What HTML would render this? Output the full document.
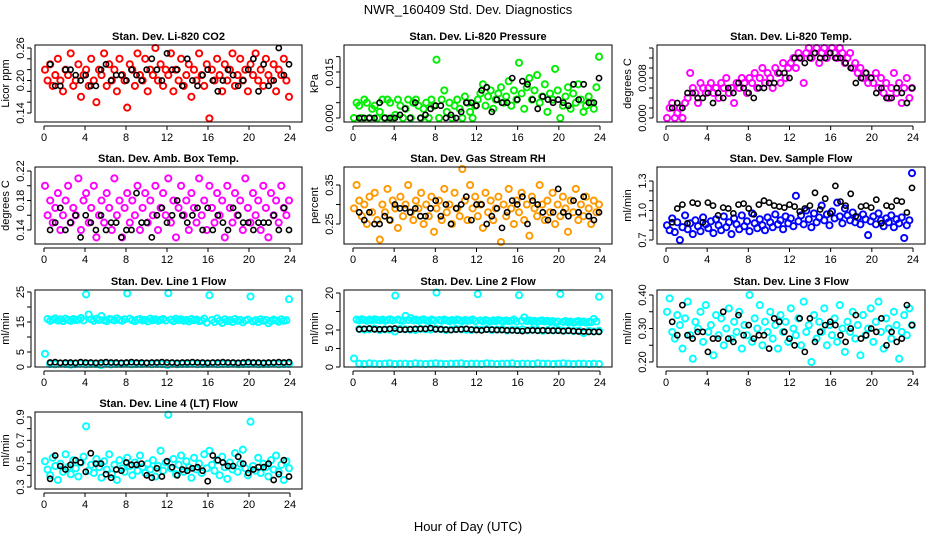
<!DOCTYPE html>
<html><head><meta charset="utf-8">
<style>
html,body{margin:0;padding:0;background:#fff;}
svg{display:block;font-family:"Liberation Sans",sans-serif;}
</style></head>
<body>
<svg id="chart" width="936" height="540" viewBox="0 0 936 540">
<text x="468" y="14" text-anchor="middle" font-size="13">NWR_160409  Std. Dev. Diagnostics</text>
<text x="468" y="531" text-anchor="middle" font-size="13">Hour of Day (UTC)</text>
</svg>
<script>
// ---------- data ----------
const hourTicks = [0,4,8,12,16,20,24];
const panelTitles = ["Stan. Dev. Li-820 CO2","Stan. Dev. Li-820 Pressure","Stan. Dev. Li-820 Temp.","Stan. Dev. Amb. Box Temp.","Stan. Dev. Gas Stream RH","Stan. Dev. Sample Flow","Stan. Dev. Line 1 Flow","Stan. Dev. Line 2 Flow","Stan. Dev. Line 3 Flow","Stan. Dev. Line 4 (LT) Flow"];
const yTitles = ["Licor ppm","kPa","degrees C","degrees C","percent","ml/min","ml/min","ml/min","ml/min","ml/min"];

const co2Col = [0.22,0.20,0.23,0.19,0.21,0.24,0.20,0.18,0.22,0.21,0.25,0.19,0.20,0.23,0.17,0.21,0.22,0.19,0.24,0.20,0.16,0.22,0.21,0.25,0.19,0.23,0.20,0.22,0.18,0.24,0.21,0.20,0.15,0.23,0.22,0.19,0.25,0.21,0.20,0.24,0.18,0.22,0.21,0.26,0.20,0.23,0.19,0.22,0.21,0.25,0.18,0.22,0.20,0.24,0.19,0.21,0.23,0.17,0.22,0.20,0.25,0.21,0.19,0.23,0.13,0.22,0.20,0.24,0.21,0.18,0.23,0.20,0.22,0.25,0.19,0.21,0.24,0.20,0.22,0.18,0.23,0.21,0.25,0.20,0.22,0.19,0.24,0.21,0.20,0.23,0.18,0.22,0.21,0.24,0.20,0.17];
const co2Blk = [0.23,0.19,0.19,0.22,0.22,0.21,0.20,0.21,0.19,0.19,0.22,0.23,0.20,0.21,0.21,0.20,0.22,0.21,0.20,0.22,0.24,0.22,0.20,0.25,0.22,0.22,0.19,0.24,0.20,0.19,0.21,0.22,0.20,0.18,0.20,0.22,0.21,0.19,0.20,0.22,0.24,0.18,0.23,0.19,0.20,0.26,0.21,0.23];
const presCol = [0,0.005,0.004,0,0.006,0.005,0,0.003,0.004,0,0.002,0.006,0,0.006,0.005,0,0.001,0.006,0.004,0,0.003,0.006,0,0.005,0.006,0.004,0,0.003,0.005,0,0.006,0.004,0.019,0,0.006,0.009,0.002,0.005,0,0.004,0.006,0.003,0,0.007,0.005,0.002,0,0.004,0.006,0.008,0.011,0.004,0.007,0.009,0.003,0.006,0.008,0.010,0.005,0.007,0.012,0.004,0.009,0.006,0.018,0.008,0.003,0.010,0.013,0.006,0.009,0.014,0.005,0.007,0.011,0.002,0.008,0.006,0.016,0.009,0,0.004,0.007,0.010,0.003,0.008,0.005,0.011,0.006,0.002,0.004,0.007,0.005,0.003,0.010,0.020];
const presBlk = [0,0,0,0,0.005,0,0,0,0.001,0.003,0,0.005,0,0.001,0.003,0.004,0.004,0,0.001,0,0.002,0.005,0.005,0.004,0.009,0.010,0.002,0.006,0.005,0.005,0.013,0.006,0.012,0.011,0.006,0.003,0.007,0.006,0.005,0.006,0.005,0.004,0.011,0.006,0.011,0.005,0.005,0.013];
const tempCol = [0,0.002,0.003,0,0.001,0.002,0,0.003,0.004,0.009,0.006,0.005,0.003,0.007,0.006,0.005,0.006,0.007,0.005,0.006,0.004,0.007,0.006,0.008,0.005,0.006,0.003,0.007,0.006,0.008,0.007,0.005,0.008,0.007,0.009,0.006,0.008,0.010,0.007,0.009,0.008,0.006,0.010,0.009,0.007,0.011,0.008,0.010,0.011,0.012,0.010,0.013,0.012,0.007,0.013,0.014,0.012,0.013,0.014,0.011,0.013,0.014,0.012,0.013,0.014,0.013,0.012,0.014,0.013,0.011,0.012,0.013,0.010,0.011,0.009,0.010,0.008,0.009,0.007,0.008,0.007,0.009,0.006,0.008,0.005,0.007,0.004,0.006,0.009,0.005,0.007,0.003,0.006,0.008,0.004,0.006];
const tempBlk = [0.002,0.003,0.002,0.005,0.005,0.004,0.004,0.005,0.003,0.005,0.004,0.006,0.005,0.007,0.006,0.005,0.004,0.006,0.006,0.007,0.007,0.009,0.009,0.008,0.012,0.012,0.011,0.012,0.013,0.012,0.012,0.013,0.012,0.012,0.011,0.010,0.007,0.008,0.009,0.008,0.005,0.006,0.004,0.004,0.006,0.005,0.003,0.006];
const ambCol = [0.20,0.16,0.18,0.15,0.17,0.19,0.14,0.16,0.18,0.20,0.15,0.17,0.16,0.21,0.14,0.18,0.19,0.15,0.17,0.20,0.13,0.16,0.18,0.15,0.19,0.17,0.14,0.21,0.16,0.18,0.13,0.17,0.19,0.15,0.18,0.16,0.20,0.14,0.17,0.19,0.15,0.18,0.16,0.20,0.14,0.17,0.19,0.16,0.21,0.15,0.18,0.13,0.17,0.20,0.16,0.18,0.14,0.19,0.17,0.15,0.21,0.16,0.18,0.14,0.20,0.17,0.15,0.19,0.16,0.18,0.13,0.20,0.17,0.15,0.19,0.16,0.18,0.14,0.21,0.17,0.15,0.19,0.16,0.18,0.14,0.20,0.17,0.13,0.19,0.16,0.18,0.15,0.20,0.17,0.16,0.18];
const ambBlk = [0.14,0.15,0.17,0.14,0.15,0.16,0.13,0.16,0.15,0.14,0.16,0.14,0.15,0.15,0.13,0.14,0.14,0.19,0.15,0.15,0.13,0.16,0.17,0.15,0.16,0.18,0.16,0.15,0.16,0.17,0.14,0.17,0.14,0.16,0.15,0.14,0.17,0.16,0.15,0.15,0.14,0.15,0.15,0.15,0.16,0.14,0.17,0.14];
const rhCol = [0.29,0.35,0.31,0.27,0.30,0.25,0.32,0.28,0.33,0.26,0.21,0.30,0.28,0.34,0.26,0.31,0.29,0.24,0.32,0.27,0.30,0.35,0.28,0.26,0.31,0.29,0.33,0.25,0.30,0.27,0.32,0.23,0.29,0.31,0.26,0.34,0.28,0.30,0.25,0.33,0.29,0.27,0.40,0.31,0.26,0.35,0.29,0.32,0.27,0.30,0.24,0.33,0.28,0.31,0.26,0.29,0.32,0.20,0.30,0.27,0.34,0.29,0.25,0.31,0.28,0.33,0.26,0.30,0.22,0.32,0.29,0.27,0.35,0.30,0.26,0.31,0.28,0.33,0.25,0.30,0.27,0.32,0.29,0.23,0.31,0.28,0.34,0.26,0.30,0.27,0.32,0.29,0.25,0.31,0.28,0.30];
const rhBlk = [0.28,0.26,0.28,0.25,0.25,0.27,0.26,0.30,0.29,0.29,0.28,0.29,0.27,0.27,0.29,0.31,0.27,0.30,0.25,0.29,0.30,0.32,0.26,0.30,0.30,0.25,0.27,0.29,0.24,0.28,0.31,0.30,0.32,0.25,0.31,0.30,0.28,0.26,0.28,0.34,0.28,0.27,0.31,0.28,0.32,0.27,0.26,0.28];
const flowCol = [0.85,0.80,0.92,0.78,0.88,0.70,0.83,0.95,0.81,0.87,0.76,0.90,0.84,0.79,0.93,0.86,0.82,0.89,0.77,0.91,0.85,0.80,0.94,0.83,0.88,0.76,0.92,0.86,0.81,0.95,0.84,0.89,0.79,0.97,0.87,0.82,0.91,0.85,0.80,0.93,0.88,0.83,0.96,0.86,0.90,0.81,0.94,0.87,0.92,0.84,1.15,0.89,0.95,0.86,1.00,0.91,0.83,0.97,0.88,0.93,1.05,0.90,0.96,0.85,0.99,0.92,1.08,0.94,0.87,1.02,0.95,0.90,0.98,0.88,0.93,0.86,0.96,0.91,0.75,0.89,0.94,0.86,0.97,0.90,0.84,0.92,0.88,0.95,0.83,0.91,0.87,0.93,0.72,0.85,0.90,1.38];
const flowBlk = [0.88,1.02,1.06,0.87,1.08,1.07,0.88,1.08,1.05,0.95,1.03,1.02,0.97,1.06,1.07,1.02,0.96,1.06,1.10,1.08,1.05,1.04,1.03,1.06,1.04,0.99,1.02,1.05,1.18,1.01,1.12,0.97,1.25,1.09,1.05,1.17,0.94,1.04,1.05,1.03,1.11,0.87,1.05,1.04,1.10,1.09,0.98,1.23];
const line1Col = [4.4,16.0,15.4,15.8,16.2,15.5,15.9,15.3,16.1,15.7,15.4,16.0,15.6,15.8,16.3,15.5,24.2,17.5,15.9,15.4,16.1,15.7,17.0,15.6,15.3,16.0,15.8,15.5,16.2,15.7,15.4,15.9,24.5,16.1,15.6,15.3,15.8,16.0,15.5,15.7,15.2,16.1,15.6,15.9,15.4,15.7,16.0,15.5,24.6,15.8,15.3,16.1,15.6,15.9,15.4,15.7,15.2,16.0,15.6,15.8,15.3,15.5,16.1,14.8,23.9,15.7,15.0,16.2,15.4,14.7,15.9,15.3,15.6,15.0,16.0,15.4,15.7,14.9,15.5,15.8,23.5,15.2,15.6,15.0,15.9,15.4,15.7,14.6,15.3,15.8,15.5,15.1,15.9,15.4,15.6,22.6];
const line1Low = [1.0,0.9,1.1,1.0,0.8,1.0,1.1,0.9,1.0,1.0,0.3,1.1,0.9,1.0,1.0,1.1,0.9,1.0,1.0,1.1,0.9,1.0,1.0,0.2,1.1,0.9,1.0,1.0,1.1,0.9,1.0,1.0,1.1,0.9,1.0,1.0,1.1,0.9,1.0,1.0,1.1,0.9,1.0,1.0,1.1,0.9,1.0,1.0];
const line1Blk = [1.5,1.6,1.4,1.5,1.5,1.4,1.6,1.5,1.5,1.4,1.5,1.6,1.5,1.5,1.4,1.5,1.6,1.5,1.5,1.4,1.5,1.5,1.6,1.5,1.5,1.4,1.5,1.5,1.6,1.5,1.5,1.4,1.5,1.5,1.6,1.5,1.5,1.4,1.5,1.6,1.5,1.5,1.4,1.5,1.5,1.6,1.5,1.6];
const line2Col = [2.3,12.8,12.6,12.9,12.7,12.5,12.8,12.6,12.9,12.7,12.6,12.8,12.5,12.7,12.9,12.6,19.3,12.8,12.6,12.5,13.8,12.7,13.2,12.6,12.8,12.5,12.7,12.9,12.6,12.4,12.8,12.6,20.1,12.7,12.5,12.8,12.6,12.4,12.7,12.5,12.8,12.6,12.4,12.7,12.5,12.6,12.8,12.4,19.7,12.6,12.4,12.7,12.5,12.3,12.6,12.4,12.7,12.5,12.3,12.6,12.4,12.5,12.8,12.3,19.4,12.5,13.4,12.4,12.6,12.3,12.5,12.2,12.4,12.6,12.3,12.5,12.2,12.4,12.1,12.3,19.7,12.2,12.4,12.1,12.3,12.0,12.2,12.4,12.1,12.3,12.0,12.2,12.1,13.0,12.3,19.0];
const line2Mid = [10.3,10.1,10.2,10.4,10.0,10.2,10.1,9.6,10.3,10.2,10.1,10.0,10.3,10.2,10.1,10.4,10.2,10.0,10.1,10.3,10.2,10.1,10.0,10.2,10.1,10.3,10.0,10.1,10.2,9.9,10.1,10.0,10.2,9.9,10.1,10.0,9.8,10.0,9.9,10.1,9.8,9.9,9.7,9.9,9.2,9.8,9.6,9.8];
const line2Low = [0.9,0.8,1.0,0.9,0.8,0.9,1.0,0.8,0.9,0.9,0.8,1.0,0.9,0.8,0.9,1.0,0.9,0.8,0.9,0.9,1.0,0.8,0.9,0.9,0.8,1.0,0.9,0.8,0.9,0.9,1.0,0.8,0.9,0.9,0.8,1.0,0.9,0.9,0.8,0.9,1.0,0.9,0.8,0.9,0.9,0.8,0.9,0.8];
const line2Blk = [10.2,10.3,10.4,10.2,10.2,10.2,10.3,10.4,10.1,10.1,10.2,10.3,10.3,10.3,10.5,10.2,10.2,10.1,10.0,10.1,10.2,10.3,10.1,10.0,9.9,10.1,10.1,10.0,10.0,9.9,9.9,9.8,9.7,9.9,9.9,9.8,9.9,9.8,9.8,9.8,9.7,9.8,9.7,9.6,9.6,9.5,9.5,9.5];
const line3Col = [0.35,0.39,0.29,0.27,0.34,0.31,0.24,0.33,0.38,0.28,0.21,0.32,0.30,0.35,0.26,0.37,0.29,0.31,0.22,0.34,0.28,0.33,0.25,0.30,0.36,0.27,0.32,0.29,0.35,0.24,0.31,0.28,0.40,0.26,0.33,0.30,0.37,0.25,0.32,0.29,0.35,0.27,0.31,0.24,0.34,0.29,0.32,0.26,0.36,0.30,0.28,0.33,0.25,0.38,0.29,0.31,0.20,0.34,0.27,0.32,0.29,0.36,0.25,0.31,0.28,0.33,0.26,0.37,0.30,0.23,0.32,0.29,0.35,0.27,0.31,0.22,0.34,0.28,0.30,0.36,0.26,0.32,0.38,0.29,0.24,0.33,0.30,0.27,0.35,0.31,0.21,0.29,0.34,0.28,0.36,0.31];
const line3Blk = [0.32,0.28,0.37,0.28,0.27,0.29,0.29,0.23,0.27,0.27,0.35,0.27,0.26,0.34,0.28,0.31,0.27,0.28,0.28,0.24,0.33,0.32,0.29,0.27,0.25,0.33,0.23,0.33,0.26,0.29,0.31,0.32,0.31,0.28,0.26,0.30,0.34,0.27,0.28,0.30,0.29,0.33,0.25,0.29,0.26,0.27,0.37,0.31];
const line4Col = [0.52,0.45,0.40,0.55,0.48,0.36,0.50,0.43,0.58,0.47,0.41,0.53,0.46,0.39,0.51,0.56,0.82,0.44,0.49,0.42,0.54,0.47,0.38,0.52,0.45,0.58,0.41,0.49,0.36,0.53,0.46,0.43,0.55,0.48,0.40,0.51,0.44,0.57,0.47,0.42,0.50,0.45,0.53,0.39,0.48,0.61,0.44,0.51,0.92,0.46,0.54,0.41,0.49,0.57,0.43,0.52,0.47,0.38,0.55,0.45,0.50,0.42,0.58,0.46,0.61,0.49,0.44,0.53,0.40,0.56,0.47,0.37,0.51,0.45,0.59,0.43,0.50,0.62,0.46,0.40,0.86,0.48,0.44,0.55,0.42,0.50,0.47,0.39,0.53,0.45,0.57,0.43,0.49,0.36,0.52,0.46];
const line4Blk = [0.37,0.57,0.48,0.45,0.49,0.53,0.51,0.43,0.59,0.50,0.50,0.41,0.38,0.45,0.44,0.51,0.49,0.49,0.50,0.40,0.38,0.46,0.39,0.52,0.47,0.40,0.45,0.44,0.46,0.47,0.44,0.35,0.57,0.53,0.51,0.48,0.48,0.56,0.50,0.42,0.45,0.47,0.47,0.50,0.36,0.41,0.53,0.39];

// ---------- layout / styles ----------
const colBox = [[35,302],[344,612],[657,925]];
const rowTop = [45,167,290,412];
const boxH = 77;
const MAG="#ff00ff", CY="#00ffff";
const panels = [
 {c:0,r:0,yA:[0.26,48],yB:[0.14,113],ticks:[0.14,0.16,0.18,0.20,0.22,0.24,0.26],labels:["0.14","0.20","0.26"],lv:[0.14,0.20,0.26],series:[[co2Col,"#ff0000",0],[co2Blk,"#000",1]]},
 {c:1,r:0,yA:[0.015,72],yB:[0,118],ticks:[0,0.005,0.010,0.015,0.020],labels:["0.000","0.015"],lv:[0,0.015],series:[[presCol,"#00ee00",0],[presBlk,"#000",1]]},
 {c:2,r:0,yA:[0.008,78],yB:[0,118],ticks:[0,0.002,0.004,0.006,0.008,0.010,0.012,0.014],labels:["0.000","0.008"],lv:[0,0.008],series:[[tempCol,MAG,0],[tempBlk,"#000",1]]},
 {c:0,r:1,yA:[0.22,171],yB:[0.14,230],ticks:[0.14,0.16,0.18,0.20,0.22],labels:["0.14","0.18","0.22"],lv:[0.14,0.18,0.22],series:[[ambCol,MAG,0],[ambBlk,"#000",1]]},
 {c:1,r:1,yA:[0.35,185],yB:[0.25,224],ticks:[0.25,0.30,0.35],labels:["0.25","0.35"],lv:[0.25,0.35],series:[[rhCol,"#ff9900",0],[rhBlk,"#000",1]]},
 {c:2,r:1,yA:[1.3,181],yB:[0.7,240],ticks:[0.7,0.8,0.9,1.0,1.1,1.2,1.3],labels:["0.7","1.0","1.3"],lv:[0.7,1.0,1.3],series:[[flowCol,"#0000ff",0],[flowBlk,"#000",1]]},
 {c:0,r:2,yA:[25,292],yB:[0,367],ticks:[0,5,10,15,20,25],labels:["0","5","15","25"],lv:[0,5,15,25],series:[[line1Col,CY,0],[line1Low,CY,1],[line1Blk,"#000",1]]},
 {c:1,r:2,yA:[20,293],yB:[0,367],ticks:[0,5,10,15,20],labels:["0","5","10","20"],lv:[0,5,10,20],series:[[line2Col,CY,0],[line2Low,CY,1],[line2Mid,CY,1],[line2Blk,"#000",1]]},
 {c:2,r:2,yA:[0.40,295],yB:[0.20,362],ticks:[0.20,0.25,0.30,0.35,0.40],labels:["0.20","0.30","0.40"],lv:[0.20,0.30,0.40],series:[[line3Col,CY,0],[line3Blk,"#000",1]]},
 {c:0,r:3,yA:[0.9,417],yB:[0.3,487],ticks:[0.3,0.4,0.5,0.6,0.7,0.8,0.9],labels:["0.3","0.5","0.7","0.9"],lv:[0.3,0.5,0.7,0.9],series:[[line4Col,CY,0],[line4Blk,"#000",1]]}
];
const svg = document.getElementById('chart');
const NS = "http://www.w3.org/2000/svg";
function mk(tag, attrs, parent){const e=document.createElementNS(NS,tag);for(const k in attrs)e.setAttribute(k,attrs[k]);(parent||svg).appendChild(e);return e;}

panels.forEach((p,pi)=>{
  const L=colBox[p.c][0], R=colBox[p.c][1], T=rowTop[p.r], B=T+boxH;
  const xS = h => (L+9) + h*((R-12)-(L+9))/24;
  const yS = v => p.yB[1] + (v-p.yB[0])*(p.yA[1]-p.yB[1])/(p.yA[0]-p.yB[0]);
  const g = mk('g',{});
  
  
  const t = mk('text',{x:(L+R)/2,y:T-5,'text-anchor':'middle','font-size':'11','font-weight':'bold'},g);
  t.textContent = panelTitles[pi];
  
  
  p.series.forEach((s,si)=>{
    const vals=s[0], n=vals.length;
    const isBlack = s[1]==="#000";
    const sg = mk('g',{fill:'none',stroke:s[1],'stroke-width': isBlack ? '1.6' : '1.9'},g);
    
    
    vals.forEach((v,i)=>{
      const h = s[2] ? 0.6 + i*23.3/(n-1) : 0.1 + i*23.8/(n-1);
      const cy = Math.max(T+2, Math.min(B-2, yS(v)));
      const c = mk('circle',{cx:xS(h).toFixed(1),cy:cy.toFixed(1),r: isBlack ? '2.6' : '3.1'},sg);
      
      
    });
  });
  const box = mk('rect',{x:L,y:T,width:R-L,height:boxH,fill:'none',stroke:'#000','stroke-width':'1'},g);
  
  
  const xa = mk('g',{stroke:'#000','stroke-width':'1'},g);
  
  
  mk('line',{x1:xS(0),x2:xS(24),y1:B+4,y2:B+4},xa);
  hourTicks.forEach(h=>{
    mk('line',{x1:xS(h),x2:xS(h),y1:B+4,y2:B+8},xa);
    const tl = mk('text',{x:xS(h),y:B+19,'text-anchor':'middle','font-size':'11',stroke:'none',fill:'#000'},g);
    tl.textContent = h;
    
    
  });
  const ya = mk('g',{stroke:'#000','stroke-width':'1'},g);
  
  
  mk('line',{x1:L-4,x2:L-4,y1:yS(p.ticks[0]),y2:yS(p.ticks[p.ticks.length-1])},ya);
  p.ticks.forEach(v=>{ mk('line',{x1:L-8,x2:L-4,y1:yS(v),y2:yS(v)},ya); });
  p.lv.forEach((v,k)=>{
    const y=yS(v);
    const tl = mk('text',{x:L-11,y:y,'text-anchor':'middle','font-size':'11',transform:`rotate(-90 ${L-11} ${y})`},g);
    tl.textContent = p.labels[k];
    
    
  });
  const yt = mk('text',{x:L-26,y:(T+B)/2,'text-anchor':'middle','font-size':'11',transform:`rotate(-90 ${L-26} ${(T+B)/2})`},g);
  yt.textContent = yTitles[pi];
  
  
});
</script>
</body></html>
